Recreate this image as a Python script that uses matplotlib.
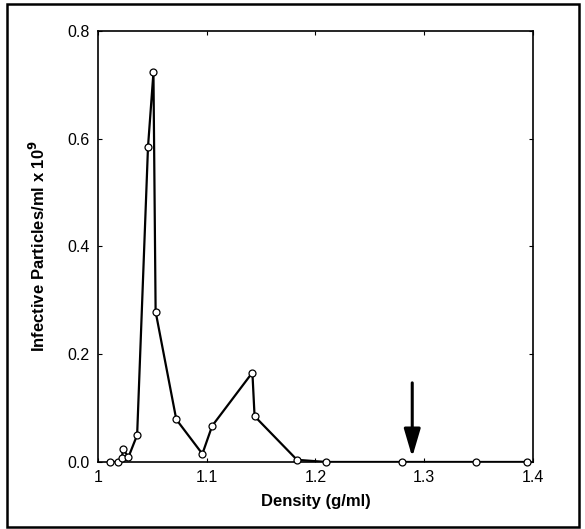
import matplotlib.pyplot as plt
from matplotlib.patches import Rectangle

plt.rcParams['font.family'] = ['Liberation Sans', 'DejaVu Sans']

# density fractions (g/ml) and infective particles/ml x 10^9
density = [1.011, 1.018, 1.022, 1.023, 1.028, 1.036, 1.046, 1.051, 1.053,
           1.072, 1.096, 1.105, 1.142, 1.144, 1.183, 1.210, 1.280, 1.348, 1.395]
titer = [0.0, 0.0, 0.007, 0.024, 0.009, 0.050, 0.585, 0.723, 0.279,
         0.079, 0.015, 0.067, 0.166, 0.085, 0.004, 0.0, 0.0, 0.0, 0.0]

x_ticks = [1.0, 1.1, 1.2, 1.3, 1.4]
x_tick_labels = ['1', '1.1', '1.2', '1.3', '1.4']
y_ticks = [0.0, 0.2, 0.4, 0.6, 0.8]

arrow_x = 1.289
arrow_top, arrow_tip = 0.152, 0.004

fig = plt.figure(figsize=(5.85, 5.29), dpi=100)
ax = fig.add_axes([0.1675, 0.1267, 0.7435, 0.8147])

ax.plot(density, titer, '-', color='black', linewidth=1.6, zorder=2)
ax.plot(density, titer, 'o', markersize=5, markerfacecolor='white',
        markeredgecolor='black', markeredgewidth=0.9, zorder=3, clip_on=False)

ax.annotate('', xy=(arrow_x, arrow_tip), xytext=(arrow_x, arrow_top),
            arrowprops=dict(arrowstyle='-|>,head_length=1.7,head_width=0.5',
                            color='black', lw=2.2))

ax.set_xlim(1.0, 1.4)
ax.set_ylim(0.0, 0.8)
ax.set_xticks(x_ticks)
ax.set_xticklabels(x_tick_labels)
ax.set_yticks(y_ticks)
ax.set_yticklabels([f'{v:.1f}' for v in y_ticks])
ax.tick_params(direction='in', length=3, width=0.8, labelsize=11.5,
               top=True, right=True, pad=6)
for s in ax.spines.values():
    s.set_linewidth(1.2)

ax.set_xlabel('Density (g/ml)', fontsize=12, fontweight='bold', labelpad=6)
ax.set_ylabel('Infective Particles/ml x 10$^{\\mathbf{9}}$', fontsize=12,
              fontweight='bold', labelpad=14)

# outer frame around the whole figure
fig.patches.append(Rectangle((0.012, 0.003), 0.978, 0.989, transform=fig.transFigure,
                             fill=False, edgecolor='black', linewidth=1.8))

plt.savefig('out.png', dpi=100, facecolor='white')
plt.close()
